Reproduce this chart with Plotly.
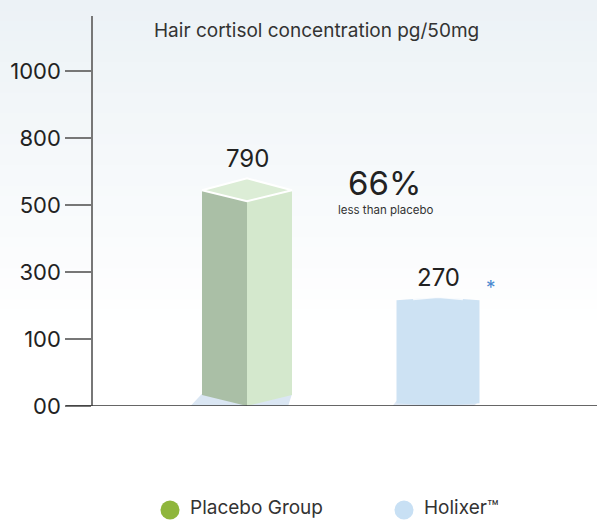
import numpy as np
import plotly.graph_objects as go

# ---- data ----
tick_values = [0, 100, 300, 500, 800, 1000]
tick_labels = ["00", "100", "300", "500", "800", "1000"]
groups = ["Placebo Group", "Holixer™"]
value_labels = ["790", "270"]
bar_read = [566, 216]          # bar edge heights as read on the drawn (uneven) scale
title_text = "Hair cortisol concentration pg/50mg"
diff_text = "66%"
diff_sub = "less than placebo"

FONT = "Inter, Roboto, Arial, sans-serif"

def ypos(v):
    return float(np.interp(v, tick_values, list(range(len(tick_values)))))

W, H = 597, 520
L, T, B = 93, 16, 114
plot_h = H - T - B
unit = 67.0
x0_px, dx_px = 247.0, 191.0
xr = [(L - x0_px) / dx_px, (W - x0_px) / dx_px]
yr = [0, plot_h / unit]

fig = go.Figure()

def poly(xs, ys, fill, line_color=None, lw=0):
    fig.add_trace(go.Scatter(x=xs + [xs[0]], y=ys + [ys[0]], mode="lines", fill="toself",
                             fillcolor=fill,
                             line=dict(color=line_color or fill, width=lw),
                             hoverinfo="skip", showlegend=False))

# Placebo bar (3D box)
c = 0
w = 45 / dx_px
pe = 11 / unit       # perspective offset
h_edge = ypos(bar_read[0])
h_front = h_edge - pe
# shadow
poly([c - w - 0.06, c - w, c + w, c + w - 0.02, c], [0.0, pe + 0.02, pe + 0.02, 0.0, -0.0],
     "#dae6f3")
poly([c - w, c, c, c - w], [pe, 0, h_front, h_edge], "#aabfa6")
poly([c, c + w, c + w, c], [0, pe, h_edge, h_front], "#d4e8cd")
poly([c - w, c, c + w, c], [h_edge, h_front, h_edge, h_edge + 12 / unit],
     "#dcedd6", "#ffffff", 2)

# Holixer bar
c2 = 1
w2 = 41.5 / dx_px
h2 = ypos(bar_read[1])
poly([c2 - w2 - 0.02, c2 - w2, c2 + w2, c2 + w2 - 0.03], [0.0, 0.08, 0.08, 0.0], "#dde7f3")
poly([c2 - w2, c2, c2 + w2, c2 + w2, c2, c2 - w2],
     [0.04, 0.0, 0.04, h2, h2 + 0.045, h2], "#cde2f3")
fig.add_trace(go.Scatter(x=[c2 - w2 * 0.6, c2, c2 + w2 * 0.6], y=[h2 + 0.01, h2 + 0.045, h2 + 0.01],
                         mode="lines", line=dict(color="rgba(255,255,255,0.8)", width=1.5),
                         hoverinfo="skip", showlegend=False))

# value labels
fig.add_annotation(x=c, y=h_edge + 12 / unit, text=value_labels[0], showarrow=False,
                   yanchor="bottom", yshift=3, font=dict(family=FONT, size=24, color="#222"))
fig.add_annotation(x=c2, y=h2 + 0.045, text=value_labels[1], showarrow=False,
                   yanchor="bottom", yshift=3, font=dict(family=FONT, size=24, color="#222"))
fig.add_annotation(x=(491 - x0_px) / dx_px, y=(406 - 287) / unit, text="*", showarrow=False,
                   yanchor="middle", font=dict(family=FONT, size=19, color="#4a88d0"))

# 66% text
fig.add_annotation(x=(384 - x0_px) / dx_px, y=(406 - 183) / unit, text=diff_text, showarrow=False,
                   yanchor="middle", font=dict(family=FONT, size=33, color="#222"))
fig.add_annotation(x=(386 - x0_px) / dx_px, y=(406 - 210) / unit, text=diff_sub, showarrow=False,
                   yanchor="middle", font=dict(family=FONT, size=11.5, color="#333"))

# title
fig.add_annotation(xref="paper", yref="paper", x=(316 - L) / (W - L), y=(406 - 31) / plot_h,
                   text=title_text, showarrow=False, yanchor="middle",
                   font=dict(family=FONT, size=19, color="#333"))

# background gradient bands
shapes = []
top_rgb = np.array([236, 242, 246])
n = 32
band = 330 / n
for i in range(n):
    t = i / (n - 1)
    col = top_rgb + (np.array([255, 255, 255]) - top_rgb) * t
    y0p = i * band
    y1p = (i + 1) * band + 1
    shapes.append(dict(type="rect", xref="paper", yref="paper", layer="below",
                       x0=-L / (W - L), x1=1.0,
                       y0=(406 - y1p) / plot_h, y1=(406 - y0p) / plot_h,
                       line=dict(width=0),
                       fillcolor="rgb(%d,%d,%d)" % tuple(col.round().astype(int))))
# x axis line extended
shapes.append(dict(type="line", xref="paper", yref="y", x0=(66 - L) / (W - L), x1=1.0, y0=0, y1=0,
                   line=dict(color="#333", width=1.5)))

# legend
legend_colors = ["#8fb63c", "#c8e0f4"]
legend_x = [170, 404]
for gname, col, lx in zip(groups, legend_colors, legend_x):
    shapes.append(dict(type="circle", xref="paper", yref="paper",
                       xsizemode="pixel", ysizemode="pixel",
                       xanchor=(lx - L) / (W - L), yanchor=(406 - 510) / plot_h,
                       x0=-9.5, x1=9.5, y0=-9.5, y1=9.5,
                       fillcolor=col, line=dict(width=0)))
    fig.add_annotation(xref="paper", yref="paper", x=(lx + 19 - L) / (W - L),
                       y=(406 - 507) / plot_h, text=gname, showarrow=False,
                       xanchor="left", yanchor="middle", borderpad=0,
                       font=dict(family=FONT, size=19, color="#333"))

fig.update_layout(
    width=W, height=H,
    margin=dict(l=L, r=0, t=T, b=B),
    paper_bgcolor="white", plot_bgcolor="rgba(0,0,0,0)",
    shapes=shapes, showlegend=False,
    font=dict(family=FONT),
    xaxis=dict(range=xr, showgrid=False, zeroline=False, showticklabels=False,
               showline=False, fixedrange=True),
    yaxis=dict(range=yr, showgrid=False, zeroline=False,
               tickmode="array", tickvals=list(range(len(tick_labels))), ticktext=tick_labels,
               ticks="outside", ticklen=26, tickcolor="#777", tickwidth=1.5,
               showline=True, linecolor="#777", linewidth=1.5,
               tickfont=dict(family=FONT, size=22, color="#222"), fixedrange=True),
)

fig.write_html("out.html", config={"displayModeBar": False},
               post_script="document.body.style.margin='0';document.body.style.overflow='hidden';")
